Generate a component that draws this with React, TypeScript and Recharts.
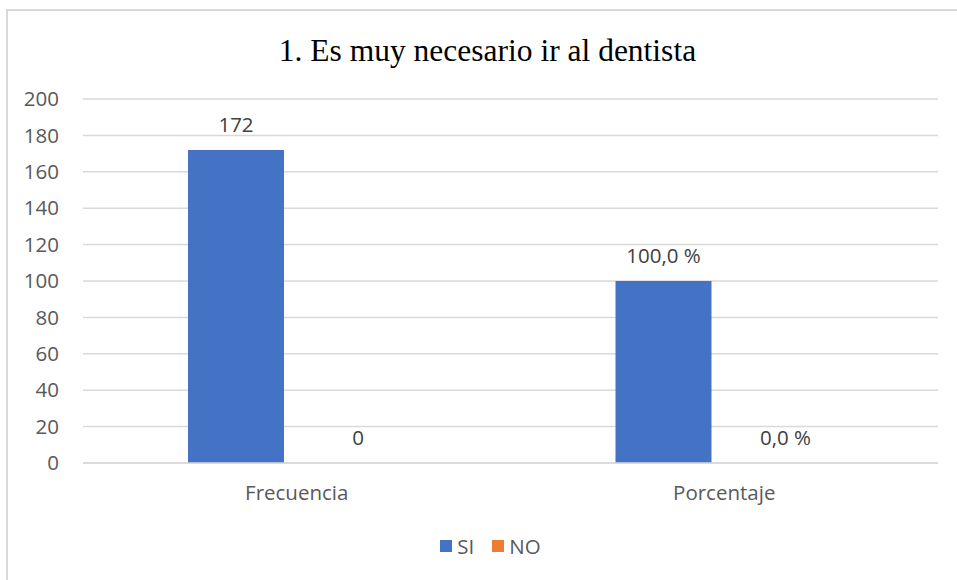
import { BarChart, Bar, XAxis, YAxis, CartesianGrid, Legend, LabelList } from "recharts"

const categories = ["Frecuencia", "Porcentaje"]
const siValues = [172, 100]
const noValues = [0, 0]
const siLabels = ["172", "100,0 %"]
const noLabels = ["0", "0,0 %"]
const yTicks = [0, 20, 40, 60, 80, 100, 120, 140, 160, 180, 200]
const seriesOrder = ["SI", "NO"]

const data = categories.map((name, i) => ({
  name,
  SI: siValues[i],
  NO: noValues[i],
  siLabel: siLabels[i],
  noLabel: noLabels[i],
}))

const FONT = "'Open Sans', sans-serif"
const TXT = 20.5

// legend drawn like the Excel one: small square, then the name
function renderLegend(props: any) {
  const items = [...(props.payload || [])].sort(
    (a: any, b: any) => seriesOrder.indexOf(a.value) - seriesOrder.indexOf(b.value)
  )
  return (
    <div style={{ display: "flex", justifyContent: "center", alignItems: "center", fontFamily: FONT, fontSize: TXT }}>
      {items.map((it: any) => (
        <div key={it.value} style={{ display: "flex", alignItems: "center", margin: "0 9px" }}>
          <span style={{ display: "inline-block", width: 12, height: 12, background: it.color, marginRight: 5 }} />
          <span style={{ color: "#595959" }}>{it.value}</span>
        </div>
      ))}
    </div>
  )
}

export default function App() {
  return (
    <div style={{ position: "absolute", left: 0, top: 0, width: 957, height: 580, background: "#fff" }}>
      {/* outer chart frame (only top/left edges visible in the crop) */}
      <div
        style={{
          position: "absolute",
          left: 6,
          top: 9,
          width: 960,
          height: 580,
          borderTop: "2px solid #d9d9d9",
          borderLeft: "2px solid #d9d9d9",
        }}
      />
      <div
        style={{
          position: "absolute",
          left: 0,
          width: 975,
          top: 33,
          textAlign: "center",
          fontFamily: "'Liberation Serif', serif",
          fontSize: 31.5,
          color: "#000",
        }}
      >
        1. Es muy necesario ir al dentista
      </div>
      <BarChart
        width={957}
        height={580}
        data={data}
        margin={{ top: 99, right: 19, left: 23, bottom: 87 }}
        barGap={26}
        barSize={96}
        style={{ position: "absolute", left: 0, top: 0, fontFamily: FONT }}
      >
        <CartesianGrid vertical={false} stroke="#d9d9d9" strokeWidth={1.5} />
        <XAxis
          dataKey="name"
          axisLine={{ stroke: "#d9d9d9", strokeWidth: 1.5 }}
          tickLine={false}
          tickSize={0}
          tickMargin={22}
          tick={{ fill: "#595959", fontSize: TXT }}
        />
        <YAxis
          width={60}
          domain={[0, 200]}
          ticks={yTicks}
          axisLine={false}
          tickLine={false}
          tickSize={0}
          tickMargin={24}
          tick={{ fill: "#595959", fontSize: TXT }}
        />
        <Legend
          verticalAlign="middle"
          align="center"
          content={renderLegend}
          wrapperStyle={{ top: 532, left: 12, width: 957 }}
        />
        <Bar dataKey="SI" fill="#4472c4" isAnimationActive={false}>
          <LabelList dataKey="siLabel" position="top" offset={18} fill="#404040" fontSize={TXT} />
        </Bar>
        <Bar dataKey="NO" fill="#ed7d31" minPointSize={0.1} isAnimationActive={false}>
          <LabelList dataKey="noLabel" position="top" offset={18} fill="#404040" fontSize={TXT} />
        </Bar>
      </BarChart>
    </div>
  )
}
